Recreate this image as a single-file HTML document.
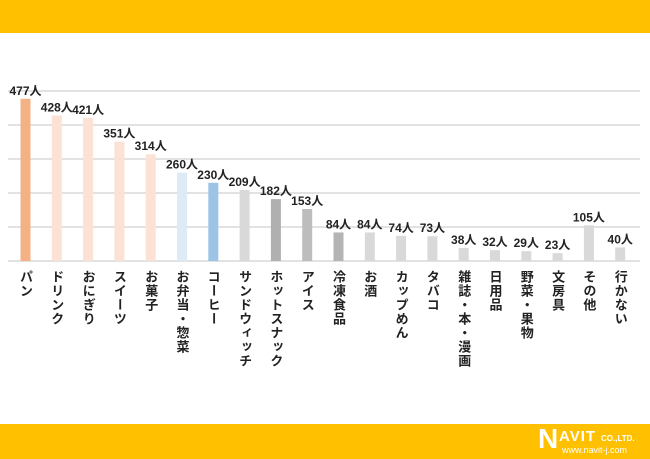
<!DOCTYPE html>
<html><head><meta charset="utf-8"><style>
body{margin:0;width:650px;height:459px;overflow:hidden;background:#fff;font-family:"Liberation Sans","Noto Sans CJK JP",sans-serif;position:relative}
.top{position:absolute;left:0;top:0;width:650px;height:33px;background:#FFC000}
.bot{position:absolute;left:0;top:424px;width:650px;height:35px;background:#FFC000}
.logo{position:absolute;left:538px;top:426px;width:110px;height:32px;color:#fff;font-weight:bold}
.logo .n{position:absolute;left:0;top:-2px;font-size:28px;line-height:30px}
.logo .a{position:absolute;left:21px;top:3px;font-size:15px;line-height:16px;letter-spacing:1px}
.logo .co{position:absolute;left:63px;top:8px;font-size:8px;line-height:10px}
.logo .u{position:absolute;left:24px;top:19px;font-size:9px;line-height:10px;font-weight:normal;white-space:nowrap}
</style></head><body>
<div class="top"></div>
<svg id="c" width="650" height="459" style="position:absolute;left:0;top:0"></svg>
<div class="bot"></div>
<div class="logo"><span class="n">N</span><span class="a">AVIT</span><span class="co">CO.,LTD.</span><span class="u">www.navit-j.com</span></div>
<script>
const categories=["パン","ドリンク","おにぎり","スイーツ","お菓子","お弁当・惣菜","コーヒー","サンドウィッチ","ホットスナック","アイス","冷凍食品","お酒","カップめん","タバコ","雑誌・本・漫画","日用品","野菜・果物","文房具","その他","行かない"];
const values=[477,428,421,351,314,260,230,209,182,153,84,84,74,73,38,32,29,23,105,40];
const colors=["#F4B183","#FBE2D5","#FBE2D5","#FBE2D5","#FBE2D5","#DDEBF7","#9DC3E6","#D9D9D9","#B0B0B0","#BDBDBD","#B4B4B4","#D9D9D9","#D9D9D9","#D9D9D9","#D9D9D9","#D9D9D9","#D9D9D9","#D9D9D9","#D9D9D9","#D9D9D9"];
const gridTicks=[100,200,300,400,500];
const svg=document.getElementById('c');const NS='http://www.w3.org/2000/svg';
const y0=261,k=0.34,x0=25.5,step=31.3,bw=10;
const yS=v=>y0-v*k, xS=i=>x0+i*step;
function mk(t,a){const e=document.createElementNS(NS,t);for(const n in a)e.setAttribute(n,a[n]);svg.appendChild(e);return e;}
gridTicks.forEach(t=>{const l=mk('line',{x1:8,x2:640,y1:yS(t),y2:yS(t),stroke:'#D9D9D9','stroke-width':1.5});

});
const ax=mk('line',{x1:8,x2:640,y1:y0,y2:y0,stroke:'#D9D9D9','stroke-width':1.5});


values.forEach((v,i)=>{
const r=mk('rect',{x:xS(i)-bw/2,y:yS(v),width:bw,height:v*k,fill:colors[i]});


const t=mk('text',{x:xS(i),y:yS(v)-4,'text-anchor':'middle','font-size':12,'font-weight':'bold',fill:'#222'});
t.textContent=v+'人';


const c=mk('text',{x:xS(i),y:270,'font-size':13,'font-weight':'bold',fill:'#222',style:'writing-mode:vertical-rl;text-orientation:upright;letter-spacing:1px'});
c.textContent=categories[i];


});
</script>
</body></html>
